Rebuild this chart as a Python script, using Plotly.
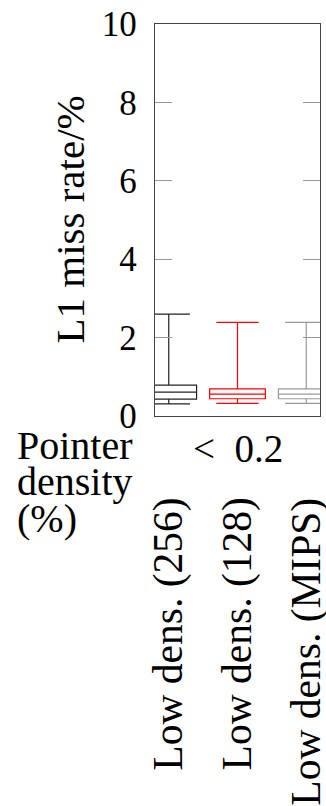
import plotly.graph_objects as go

categories = ["Low dens. (256)", "Low dens. (128)", "Low dens. (MIPS)"]
lower_whisker = [0.31, 0.32, 0.32]
q1_values = [0.43, 0.44, 0.44]
medians = [0.61, 0.56, 0.56]
q3_values = [0.79, 0.69, 0.69]
upper_whisker = [2.60, 2.39, 2.39]
colors = ["#222222", "#ff0000", "#999999"]
y_ticks = [0, 2, 4, 6, 8, 10]
group_label = "<\u20020.2"
row_label = ["Pointer", "density", "(%)"]
y_title = "L1 miss rate/%"

W, H = 326, 806
PL, PR, PT, PB = 155, 321, 19, 416.5  # plot area in page pixels
L, T, R, B = PL, PT, W - PR, H - PB
pw = PR - PL
ph = PB - PT
FONT = "Liberation Serif"

fig = go.Figure()
for i, cat in enumerate(categories):
    fig.add_trace(go.Box(
        x=[cat],
        q1=[q1_values[i]], median=[medians[i]], q3=[q3_values[i]],
        lowerfence=[lower_whisker[i]], upperfence=[upper_whisker[i]],
        width=0.81, whiskerwidth=0.76,
        line=dict(color=colors[i], width=1.2),
        fillcolor="rgba(255,255,255,0)",
        boxpoints=False, showlegend=False, hoverinfo="skip",
    ))

def px2x(px):
    return (px - PL) / pw

def py2y(py):
    return 1 - (py - PT) / ph

annotations = []
annotations.append(dict(text=y_title, xref="paper", yref="paper", x=px2x(69), y=0.5,
                        textangle=-90, showarrow=False, xanchor="center", yanchor="middle",
                        font=dict(family=FONT, size=41, color="black")))
annotations.append(dict(text=group_label, xref="x", yref="paper", x=1, y=py2y(449),
                        showarrow=False, xanchor="center", yanchor="middle",
                        font=dict(family=FONT, size=39, color="black")))
for j, t in enumerate(row_label):
    annotations.append(dict(text=t, xref="paper", yref="paper", x=px2x(14), y=py2y(446 + 37 * j),
                            showarrow=False, xanchor="left", yanchor="middle",
                            font=dict(family=FONT, size=40, color="black")))
for i, cat in enumerate(categories):
    annotations.append(dict(text=cat, xref="x", yref="paper", x=i, y=py2y(497),
                            textangle=-90, showarrow=False, xanchor="center", yanchor="top",
                            font=dict(family=FONT, size=41.5, color="black")))

fig.update_layout(
    width=W, height=H,
    margin=dict(l=L, r=R, t=T, b=B, pad=0),
    paper_bgcolor="white", plot_bgcolor="white",
    annotations=annotations,
    xaxis=dict(type="category", range=[-0.2, 2.2], showticklabels=False, ticks="",
               showgrid=False, zeroline=False, showline=True, mirror=True,
               linecolor="#444444", linewidth=1.4, fixedrange=True),
    yaxis=dict(range=[0, 10], tickvals=y_ticks, ticktext=[str(v) for v in y_ticks],
               ticks="inside", ticklen=17, tickcolor="#999999", tickwidth=1,
               showgrid=False, zeroline=False, showline=True, mirror="ticks",
               linecolor="#444444", linewidth=1.4,
               tickfont=dict(family=FONT, size=35, color="black"),
               ticklabelstandoff=10, ticklabeloverflow="allow"),
)

fig.write_html("out.html", config={"displayModeBar": False},
               post_script="document.body.style.margin='0';document.documentElement.style.overflow='hidden';")
